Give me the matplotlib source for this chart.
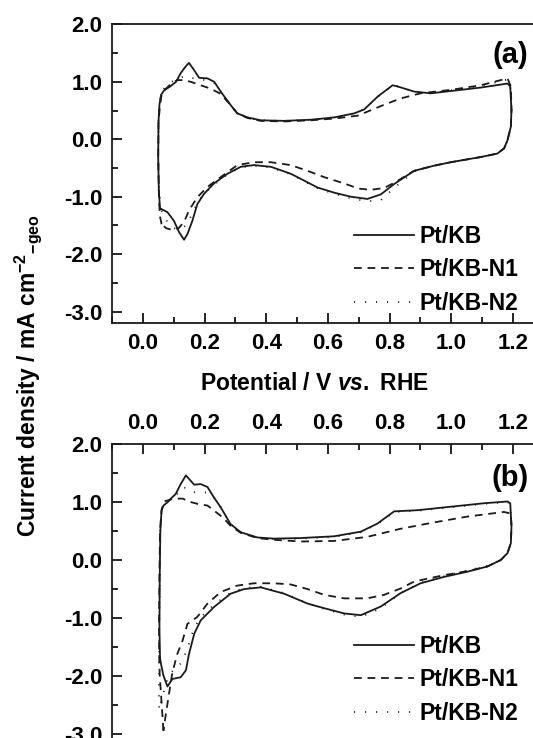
import matplotlib
matplotlib.use("Agg")
import matplotlib.pyplot as plt
from matplotlib.ticker import MultipleLocator, FormatStrFormatter

plt.rcParams['font.family'] = ['Liberation Sans', 'DejaVu Sans']
plt.rcParams['font.weight'] = 'bold'
plt.rcParams['axes.unicode_minus'] = False
plt.rcParams['mathtext.fontset'] = 'custom'
plt.rcParams['mathtext.rm'] = 'Liberation Sans:bold'
plt.rcParams['mathtext.bf'] = 'Liberation Sans:bold'
plt.rcParams['mathtext.it'] = 'Liberation Sans:italic:bold'
plt.rcParams['mathtext.default'] = 'rm'

# ---------------- data (potential V vs RHE, current density mA cm-2) ----------------
labels = ["Pt/KB", "Pt/KB-N1", "Pt/KB-N2"]
x_ticks = [0.0, 0.2, 0.4, 0.6, 0.8, 1.0, 1.2]
y_ticks = [2.0, 1.0, 0.0, -1.0, -2.0, -3.0]

# panel (a)
a_kb_v = [0.055, 0.051, 0.049, 0.050, 0.053, 0.058, 0.068, 0.088, 0.107, 0.122, 0.137, 0.149, 0.166, 0.182,
          0.209, 0.231, 0.252, 0.285, 0.306, 0.339, 0.382, 0.458, 0.544, 0.620, 0.685, 0.718, 0.761, 0.810,
          0.826, 0.880, 0.934, 0.999, 1.096, 1.183, 1.192, 1.196, 1.194, 1.183, 1.172, 1.150, 1.096, 0.999,
          0.945, 0.880, 0.815, 0.772, 0.728, 0.674, 0.620, 0.566, 0.512, 0.479, 0.415, 0.360, 0.317, 0.274,
          0.230, 0.198, 0.176, 0.160, 0.144, 0.133, 0.117, 0.100, 0.079, 0.057, 0.055]
a_kb_j = [-1.21, -0.90, -0.30, 0.30, 0.60, 0.77, 0.85, 0.92, 1.00, 1.15, 1.26, 1.33, 1.20, 1.07,
          1.06, 1.00, 0.83, 0.59, 0.45, 0.38, 0.33, 0.32, 0.34, 0.38, 0.45, 0.52, 0.74, 0.94,
          0.92, 0.83, 0.80, 0.84, 0.90, 0.97, 0.92, 0.51, 0.22, -0.02, -0.16, -0.25, -0.31, -0.40,
          -0.46, -0.55, -0.78, -0.96, -1.04, -1.00, -0.93, -0.84, -0.69, -0.60, -0.48, -0.45, -0.48, -0.60,
          -0.77, -0.95, -1.13, -1.42, -1.65, -1.75, -1.62, -1.42, -1.27, -1.21, -1.21]

a_n1_v = [0.060, 0.055, 0.052, 0.049, 0.050, 0.055, 0.060, 0.068, 0.088, 0.111, 0.130, 0.155, 0.187, 0.220,
          0.252, 0.285, 0.306, 0.339, 0.382, 0.458, 0.544, 0.620, 0.696, 0.728, 0.782, 0.836, 0.901, 0.999,
          1.096, 1.183, 1.194, 1.196, 1.194, 1.183, 1.172, 1.150, 1.096, 0.999, 0.945, 0.880, 0.815, 0.782,
          0.740, 0.700, 0.653, 0.588, 0.534, 0.479, 0.415, 0.360, 0.306, 0.252, 0.209, 0.176, 0.149, 0.133,
          0.115, 0.095, 0.075, 0.060]
a_n1_j = [-1.48, -1.35, -1.10, -0.30, 0.30, 0.60, 0.77, 0.85, 0.95, 1.03, 1.03, 1.00, 0.94, 0.88,
          0.79, 0.59, 0.45, 0.37, 0.32, 0.31, 0.33, 0.36, 0.41, 0.48, 0.60, 0.71, 0.80, 0.86,
          0.94, 1.06, 0.92, 0.51, 0.22, -0.02, -0.16, -0.25, -0.31, -0.40, -0.46, -0.55, -0.76, -0.85,
          -0.88, -0.86, -0.77, -0.66, -0.55, -0.45, -0.40, -0.40, -0.45, -0.66, -0.83, -1.01, -1.24, -1.44,
          -1.55, -1.58, -1.55, -1.48]

a_n2_v = [0.058, 0.052, 0.049, 0.050, 0.053, 0.058, 0.068, 0.088, 0.110, 0.140, 0.170, 0.200, 0.230, 0.252,
          0.285, 0.306, 0.339, 0.382, 0.458, 0.544, 0.620, 0.685, 0.718, 0.761, 0.810, 0.826, 0.880, 0.934,
          0.999, 1.096, 1.183, 1.192, 1.196, 1.194, 1.183, 1.172, 1.150, 1.096, 0.999, 0.945, 0.880, 0.815,
          0.772, 0.728, 0.674, 0.620, 0.566, 0.512, 0.479, 0.415, 0.360, 0.317, 0.274, 0.230, 0.198, 0.176,
          0.160, 0.140, 0.120, 0.100, 0.080, 0.065, 0.058]
a_n2_j = [-1.22, -0.90, -0.30, 0.30, 0.60, 0.78, 0.88, 0.98, 1.06, 1.10, 1.05, 1.03, 0.98, 0.83,
          0.59, 0.45, 0.38, 0.33, 0.32, 0.34, 0.38, 0.45, 0.52, 0.74, 0.93, 0.92, 0.83, 0.80,
          0.85, 0.93, 1.04, 0.92, 0.51, 0.22, -0.02, -0.16, -0.25, -0.31, -0.40, -0.46, -0.56, -0.85,
          -1.06, -1.08, -1.03, -0.95, -0.85, -0.70, -0.61, -0.49, -0.46, -0.49, -0.61, -0.79, -0.95, -1.10,
          -1.30, -1.50, -1.57, -1.55, -1.45, -1.30, -1.22]

# panel (b)
b_kb_v = [0.055, 0.053, 0.054, 0.056, 0.060, 0.066, 0.080, 0.090, 0.106, 0.122, 0.139, 0.149, 0.166, 0.187,
          0.209, 0.230, 0.252, 0.284, 0.317, 0.371, 0.425, 0.512, 0.620, 0.707, 0.761, 0.815, 0.891, 0.999,
          1.107, 1.183, 1.192, 1.196, 1.194, 1.183, 1.161, 1.118, 1.053, 0.977, 0.901, 0.836, 0.772, 0.707,
          0.653, 0.588, 0.534, 0.458, 0.382, 0.328, 0.284, 0.230, 0.187, 0.166, 0.149, 0.139, 0.122, 0.095,
          0.079, 0.066, 0.058, 0.055]
b_kb_j = [-1.70, -1.20, -0.30, 0.50, 0.85, 0.93, 0.99, 1.05, 1.13, 1.30, 1.45, 1.39, 1.29, 1.30,
          1.25, 1.07, 0.90, 0.61, 0.47, 0.38, 0.36, 0.37, 0.40, 0.48, 0.62, 0.83, 0.85, 0.91,
          0.97, 1.00, 0.97, 0.57, 0.28, 0.11, -0.01, -0.12, -0.21, -0.30, -0.41, -0.58, -0.81, -0.96,
          -0.93, -0.84, -0.76, -0.59, -0.48, -0.51, -0.59, -0.82, -1.05, -1.28, -1.63, -1.91, -2.03, -2.06,
          -2.19, -2.00, -1.80, -1.70]

b_n1_v = [0.066, 0.061, 0.054, 0.052, 0.052, 0.053, 0.055, 0.060, 0.068, 0.100, 0.128, 0.155, 0.176, 0.209,
          0.236, 0.260, 0.284, 0.317, 0.371, 0.425, 0.512, 0.620, 0.728, 0.836, 0.945, 1.053, 1.172, 1.194,
          1.196, 1.194, 1.183, 1.161, 1.118, 1.053, 0.977, 0.880, 0.836, 0.782, 0.728, 0.653, 0.588, 0.534,
          0.479, 0.425, 0.360, 0.306, 0.252, 0.209, 0.176, 0.144, 0.128, 0.111, 0.095, 0.084, 0.074, 0.066]
b_n1_j = [-2.95, -2.55, -2.00, -1.60, -1.00, -0.30, 0.50, 0.85, 1.00, 1.05, 1.05, 0.99, 0.96, 0.93,
          0.82, 0.72, 0.58, 0.46, 0.37, 0.34, 0.31, 0.32, 0.39, 0.53, 0.64, 0.74, 0.82, 0.79,
          0.57, 0.28, 0.11, -0.01, -0.12, -0.20, -0.27, -0.38, -0.50, -0.61, -0.67, -0.67, -0.61, -0.51,
          -0.43, -0.41, -0.41, -0.45, -0.56, -0.76, -0.99, -1.11, -1.40, -1.63, -1.95, -2.32, -2.66, -2.95]

b_n2_v = [0.052, 0.051, 0.053, 0.054, 0.056, 0.060, 0.066, 0.085, 0.106, 0.128, 0.145, 0.160, 0.193, 0.215,
          0.230, 0.252, 0.284, 0.317, 0.371, 0.425, 0.512, 0.620, 0.707, 0.761, 0.815, 0.891, 0.999, 1.107,
          1.183, 1.192, 1.196, 1.194, 1.183, 1.161, 1.118, 1.053, 0.977, 0.901, 0.836, 0.772, 0.707, 0.653,
          0.588, 0.534, 0.458, 0.382, 0.328, 0.284, 0.230, 0.187, 0.166, 0.149, 0.130, 0.115, 0.095, 0.080,
          0.066, 0.056, 0.052]
b_n2_j = [-2.55, -1.90, -1.00, -0.30, 0.50, 0.85, 0.95, 1.02, 1.10, 1.25, 1.22, 1.16, 1.16, 1.15,
          1.07, 0.90, 0.61, 0.47, 0.37, 0.35, 0.36, 0.39, 0.47, 0.61, 0.82, 0.84, 0.90, 0.96,
          0.99, 0.96, 0.57, 0.28, 0.11, -0.01, -0.11, -0.19, -0.29, -0.40, -0.58, -0.84, -0.99, -0.95,
          -0.85, -0.76, -0.58, -0.47, -0.49, -0.57, -0.78, -1.00, -1.17, -1.45, -1.72, -1.85, -1.93, -2.05,
          -2.30, -2.50, -2.55]

# ---------------- figure ----------------
W, H = 533, 738
fig = plt.figure(figsize=(W / 100, H / 100), dpi=100)

xlim = (-0.1, 1.3)
ylim = (-3.2, 2.0)
ax_left = 112.3 / W
ax_w = 431.2 / W
ax_a = fig.add_axes([ax_left, 1 - 323.0 / H, ax_w, 298.6 / H])
ax_b = fig.add_axes([ax_left, 1 - 745.1 / H, ax_w, 301.6 / H])

LW = 1.3
styles = [dict(linestyle='-'),
          dict(linestyle=(0, (4.3, 3.2))),
          dict(linestyle=(0, (0.6, 5.5)))]

def draw(ax, series):
    handles = []
    for (v, j), st, lab, z in zip(series, styles, labels, [3, 2, 2]):
        h, = ax.plot(v, j, color='#1a1a1a', lw=LW, label=lab, zorder=z, **st)
        handles.append(h)
    ax.set_xlim(*xlim)
    ax.set_ylim(*ylim)
    ax.set_xticks(x_ticks)
    ax.set_yticks(y_ticks)
    ax.xaxis.set_minor_locator(MultipleLocator(0.1))
    ax.yaxis.set_minor_locator(MultipleLocator(0.5))
    ax.xaxis.set_major_formatter(FormatStrFormatter('%.1f'))
    ax.yaxis.set_major_formatter(FormatStrFormatter('%.1f'))
    ax.tick_params(which='major', direction='in', length=7, width=1.2, labelsize=16, pad=7)
    ax.tick_params(which='minor', direction='in', length=4, width=1.2)
    for lbl in ax.get_xticklabels() + ax.get_yticklabels():
        lbl.set_fontweight('bold')
    for s in ax.spines.values():
        s.set_linewidth(1.3)
        s.set_color('#1a1a1a')
    ax.spines['right'].set_visible(False)
    return handles

ha = draw(ax_a, [(a_kb_v, a_kb_j), (a_n1_v, a_n1_j), (a_n2_v, a_n2_j)])
ax_a.tick_params(axis='x', which='both', top=False, bottom=True)
ax_a.tick_params(axis='y', which='both', right=False)

hb = draw(ax_b, [(b_kb_v, b_kb_j), (b_n1_v, b_n1_j), (b_n2_v, b_n2_j)])
ax_b.xaxis.tick_top()
ax_b.tick_params(axis='x', which='both', top=True, bottom=False, labeltop=True, labelbottom=False)
ax_b.tick_params(axis='y', which='both', right=False)
ax_b.spines['bottom'].set_visible(False)

for ax, hs, ytop in [(ax_a, ha, 0.328), (ax_b, hb, 0.365)]:
    ax.legend(handles=hs, loc='upper left', bbox_to_anchor=(0.5605, ytop), frameon=False,
              borderpad=0, borderaxespad=0, handlelength=2.6, handletextpad=0.27,
              labelspacing=0.45, prop=dict(family='Liberation Sans', weight='bold', size=16.5))

ax_a.text(0.9235, 0.8975, "(a)", transform=ax_a.transAxes, ha='center', va='center',
          fontsize=21, fontweight='bold')
ax_b.text(0.9223, 0.887, "(b)", transform=ax_b.transAxes, ha='center', va='center',
          fontsize=21, fontweight='bold')

fig.text(314.6 / W, 1 - 383.3 / H, r"Potential / V $\mathit{vs.}$ RHE", ha='center', va='center',
         fontsize=16.5, fontweight='bold')
fig.text(28.5 / W, 1 - 376 / H, r"Current density / mA cm$^{-2}$$_{-geo}$", rotation=90,
         ha='center', va='center', fontsize=16.5, fontweight='bold')

fig.savefig("out.png", dpi=100)
